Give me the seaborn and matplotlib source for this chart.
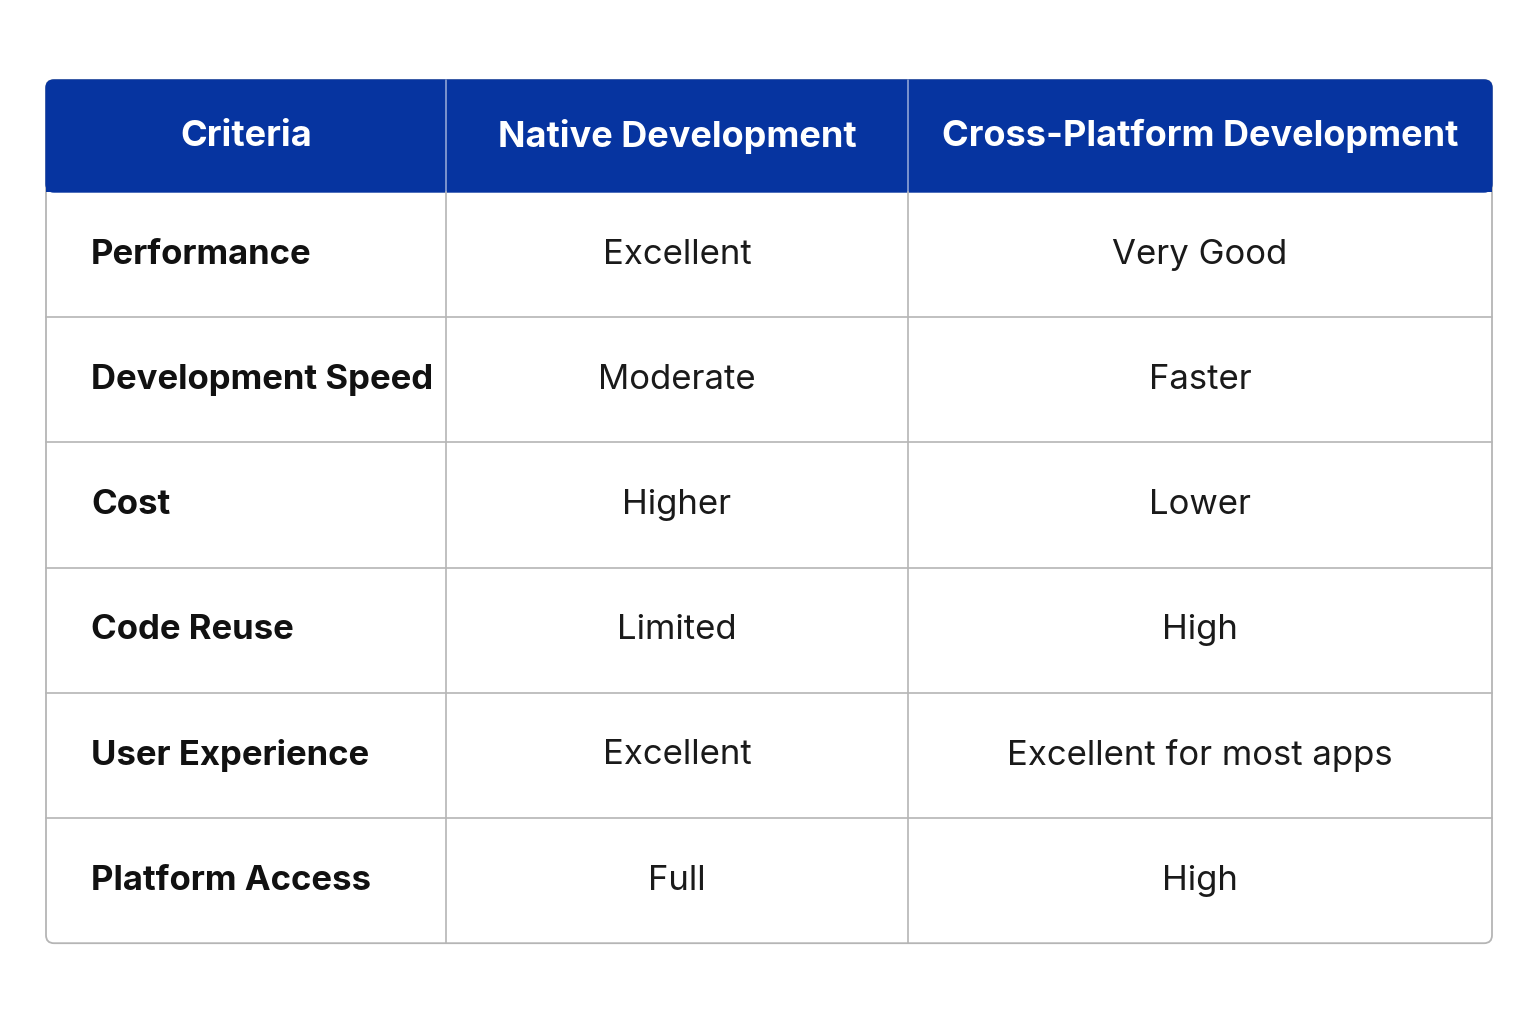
import seaborn as sns
import matplotlib.pyplot as plt
from matplotlib.patches import FancyBboxPatch, Rectangle

columns = ["Criteria", "Native Development", "Cross-Platform Development"]
criteria = ["Performance", "Development Speed", "Cost", "Code Reuse",
            "User Experience", "Platform Access"]
native = ["Excellent", "Moderate", "Higher", "Limited", "Excellent", "Full"]
cross = ["Very Good", "Faster", "Lower", "High", "Excellent for most apps", "High"]

sns.set_theme(style="white")
plt.rcParams['font.family'] = ['Inter', 'DejaVu Sans']

W, H = 1536, 1024
fig = plt.figure(figsize=(W / 100, H / 100), dpi=100)
ax = fig.add_axes([0, 0, 1, 1])
ax.set_xlim(0, W)
ax.set_ylim(H, 0)
ax.axis("off")

header_blue = "#0634A0"
grid = "#B5B5B5"
left, top = 46, 80
col_w = [400, 462, 584]
header_h = 112
row_h = 125.2
col_x = [left]
for w in col_w:
    col_x.append(col_x[-1] + w)
right = col_x[-1]
bottom = top + header_h + row_h * len(criteria)

# outer rounded frame
ax.add_patch(FancyBboxPatch((left, top), right - left, bottom - top,
                            boxstyle="round,pad=0,rounding_size=8",
                            fc="white", ec=grid, lw=1.3, zorder=1))
# header band
ax.add_patch(FancyBboxPatch((left, top), right - left, header_h,
                            boxstyle="round,pad=0,rounding_size=8",
                            fc=header_blue, ec=header_blue, lw=1, zorder=2))
ax.add_patch(Rectangle((left, top + header_h / 2), right - left, header_h / 2,
                       fc=header_blue, ec="none", zorder=2))

for x in col_x[1:-1]:
    ax.plot([x, x], [top, top + header_h], color="#8FA3D6", lw=1.2, zorder=3)
    ax.plot([x, x], [top + header_h, bottom], color=grid, lw=1.2, zorder=3)
for i in range(1, len(criteria)):
    y = top + header_h + row_h * i
    ax.plot([left, right], [y, y], color=grid, lw=1.2, zorder=3)

for j, name in enumerate(columns):
    cx = (col_x[j] + col_x[j + 1]) / 2
    ax.text(cx, top + header_h / 2, name, color="white", fontsize=26,
            fontweight="bold", ha="center", va="center", zorder=4)

for i, (c, n, p) in enumerate(zip(criteria, native, cross)):
    cy = top + header_h + row_h * (i + 0.5)
    ax.text(left + 45, cy, c, color="#111111", fontsize=25, fontweight="bold",
            ha="left", va="center", zorder=4)
    ax.text((col_x[1] + col_x[2]) / 2, cy, n, color="#1a1a1a", fontsize=25,
            ha="center", va="center", zorder=4)
    ax.text((col_x[2] + col_x[3]) / 2, cy, p, color="#1a1a1a", fontsize=25,
            ha="center", va="center", zorder=4)

fig.savefig("out.png", dpi=100, facecolor="white")
